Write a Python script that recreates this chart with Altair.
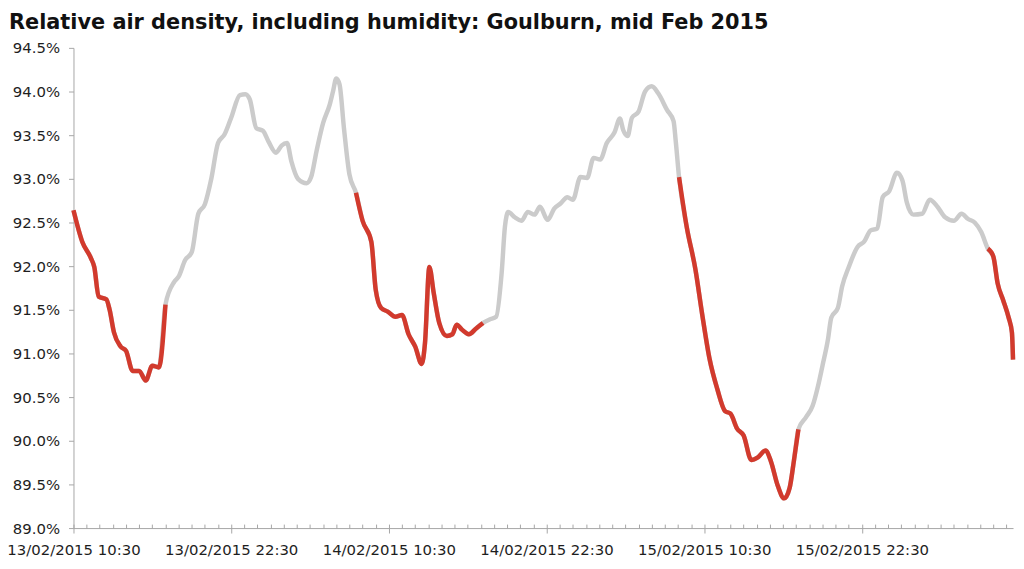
import altair as alt
import pandas as pd

TITLE = "Relative air density, including humidity: Goulburn, mid Feb 2015"

start_time = "2015-02-13 10:30"
end_time = "2015-02-16 10:00"

# minutes after 13/02/2015 10:30
minutes_from_start = [
    0, 40, 80, 95, 115, 150, 165, 185, 215, 240,
    270, 300, 330, 360, 390, 420, 460, 480, 510, 540,
    570, 600, 630, 660, 690, 720, 760, 785, 805, 835,
    865, 890, 925, 950, 975, 995, 1025, 1065, 1085, 1110,
    1140, 1170, 1185, 1200, 1215, 1235, 1260, 1290, 1320, 1360,
    1380, 1405, 1435, 1470, 1500, 1530, 1560, 1590, 1605, 1625,
    1645, 1670, 1705, 1730, 1750, 1775, 1805, 1840, 1870, 1900,
    1930, 1955, 1970, 1985, 2015, 2045, 2075, 2105, 2130, 2165,
    2195, 2225, 2255, 2280, 2315, 2345, 2375, 2405, 2435, 2470,
    2495, 2510, 2530, 2550, 2580, 2610, 2640, 2670, 2710, 2740,
    2750, 2765, 2800, 2840, 2870, 2905, 2940, 2975, 3000, 3030,
    3060, 3095, 3125, 3160, 3185, 3215, 3245, 3270, 3290, 3310,
    3345, 3375, 3400, 3420, 3445, 3460, 3490, 3510, 3540, 3580,
    3610, 3640, 3670, 3695, 3725, 3760, 3785, 3805, 3835, 3875,
    3910, 3945, 3980, 4020, 4055, 4085, 4115, 4145, 4175, 4200,
    4220, 4245, 4270, 4285, 4290,
]

# relative air density (%)
density_pct = [
    92.64, 92.28, 92.09, 91.99, 91.65, 91.62, 91.50, 91.24, 91.08, 91.03,
    90.80, 90.80, 90.69, 90.86, 90.84, 91.56, 91.82, 91.88, 92.07, 92.16,
    92.60, 92.71, 93.01, 93.41, 93.51, 93.70, 93.96, 93.97, 93.91, 93.58,
    93.55, 93.43, 93.30, 93.38, 93.41, 93.20, 93.00, 92.95, 93.02, 93.32,
    93.64, 93.85, 94.00, 94.15, 94.08, 93.58, 93.05, 92.84, 92.52, 92.28,
    91.73, 91.52, 91.48, 91.42, 91.44, 91.22, 91.08, 90.88, 91.12, 91.99,
    91.69, 91.35, 91.20, 91.22, 91.33, 91.27, 91.22, 91.29, 91.35, 91.39,
    91.42, 91.92, 92.45, 92.62, 92.56, 92.52, 92.62, 92.59, 92.68, 92.53,
    92.66, 92.72, 92.79, 92.76, 93.02, 93.01, 93.24, 93.22, 93.41, 93.53,
    93.69, 93.56, 93.49, 93.70, 93.77, 94.00, 94.06, 93.98, 93.79, 93.66,
    93.43, 93.02, 92.45, 91.96, 91.46, 90.93, 90.59, 90.34, 90.31, 90.14,
    90.06, 89.78, 89.81, 89.89, 89.76, 89.49, 89.34, 89.46, 89.78, 90.13,
    90.27, 90.40, 90.63, 90.86, 91.16, 91.41, 91.52, 91.77, 91.99, 92.22,
    92.28, 92.41, 92.43, 92.79, 92.86, 93.07, 92.98, 92.73, 92.59, 92.60,
    92.76, 92.68, 92.56, 92.52, 92.60, 92.54, 92.50, 92.39, 92.20, 92.11,
    91.80, 91.61, 91.41, 91.24, 90.93,
]

# daytime periods drawn in red
highlight_windows = [
    ("2015-02-13 10:30", "2015-02-13 17:30"),
    ("2015-02-14 08:00", "2015-02-14 17:40"),
    ("2015-02-15 08:35", "2015-02-15 17:40"),
    ("2015-02-16 08:05", "2015-02-16 10:00"),
]

x_major_labels = [
    "13/02/2015 10:30", "13/02/2015 22:30", "14/02/2015 10:30",
    "14/02/2015 22:30", "15/02/2015 10:30", "15/02/2015 22:30",
]
y_ticks = [89.0, 89.5, 90.0, 90.5, 91.0, 91.5, 92.0, 92.5, 93.0, 93.5, 94.0, 94.5]

GREY = "#CBCBCB"
RED = "#D23A2D"
AXIS_GREY = "#A6A6A6"
TEXT = "#1E1E1E"
FONT = "DejaVu Sans"

base = pd.Timestamp(start_time)
df = pd.DataFrame({
    "time": [base + pd.Timedelta(minutes=m) for m in minutes_from_start],
    "density": density_pct,
})
df["window"] = -1
for i, (a, b) in enumerate(highlight_windows):
    mask = (df["time"] >= pd.Timestamp(a)) & (df["time"] <= pd.Timestamp(b))
    df.loc[mask, "window"] = i
red_df = df[df["window"] >= 0].copy()


def to_dt(ts):
    ts = pd.Timestamp(ts)
    return alt.DateTime(year=ts.year, month=ts.month, date=ts.day,
                        hours=ts.hour, minutes=ts.minute)


major_vals = [to_dt(pd.to_datetime(s, format="%d/%m/%Y %H:%M")) for s in x_major_labels]
minor_vals = [to_dt(t) for t in pd.date_range(base, pd.Timestamp(end_time), freq="h")]

x_scale = alt.Scale(domain=[to_dt(start_time), to_dt(end_time)], nice=False)
y_scale = alt.Scale(domain=[89.0, 94.5], nice=False, zero=False)

y_axis = alt.Axis(
    values=y_ticks, labelExpr="format(datum.value, '.1f') + '%'",
    title=None, grid=False, tickSize=5, tickColor=AXIS_GREY, domainColor=AXIS_GREY,
    labelFontSize=15, labelFont=FONT, labelColor=TEXT, labelPadding=9,
)

x_axis_main = alt.Axis(
    values=major_vals, format="%d/%m/%Y %H:%M", orient="bottom",
    title=None, grid=False, tickSize=5, tickColor=AXIS_GREY, domainColor=AXIS_GREY,
    labelFontSize=15, labelFont=FONT, labelColor=TEXT, labelPadding=10,
    labelAngle=0, labelOverlap=False, labelFlush=False,
)

x_axis_minor = alt.Axis(
    values=minor_vals, orient="bottom", offset=-4, tickSize=4,
    labels=False, domain=False, grid=False, title=None, tickColor=AXIS_GREY,
)

grey_line = alt.Chart(df).mark_line(
    color=GREY, strokeWidth=4.5, interpolate="monotone"
).encode(
    x=alt.X("time:T", scale=x_scale, axis=x_axis_main),
    y=alt.Y("density:Q", scale=y_scale, axis=y_axis),
)

red_line = alt.Chart(red_df).mark_line(
    color=RED, strokeWidth=4.5, interpolate="monotone"
).encode(
    x=alt.X("time:T", scale=x_scale, axis=x_axis_minor),
    y=alt.Y("density:Q", scale=y_scale, axis=y_axis),
    detail="window:N",
)

chart = alt.layer(grey_line, red_line).resolve_axis(x="independent").properties(
    width=947,
    height=484,
    autosize=alt.AutoSizeParams(type="none"),
    padding={"left": 66, "top": 38, "right": 3, "bottom": 31},
    title=alt.TitleParams(
        TITLE, anchor="start", frame="group", fontSize=21, fontWeight="bold",
        font=FONT, color="#111111", dx=-65, offset=8,
    ),
    background="white",
).configure_view(strokeWidth=0)

chart.save("out.html", embed_options={"renderer": "svg", "actions": False})
